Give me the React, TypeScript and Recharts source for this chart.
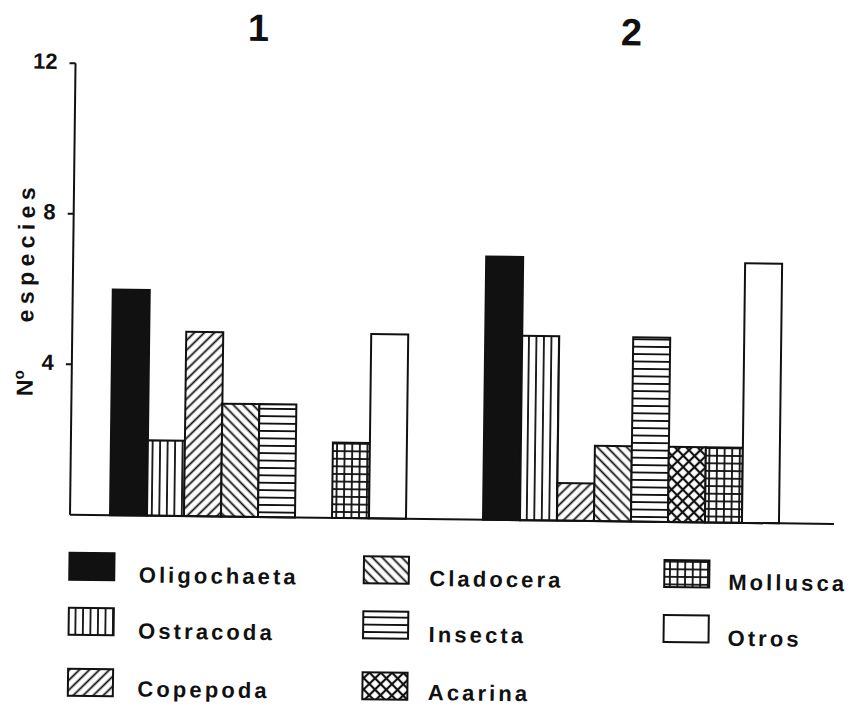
import React from 'react';
import { BarChart, Bar, XAxis, YAxis, ReferenceLine } from 'recharts';

// ---- data ----
const groups = ['1', '2'];
const oligochaeta = [6, 7];
const ostracoda = [2, 4.9];
const copepoda = [4.9, 1];
const cladocera = [3, 2];
const insecta = [3, 4.9];
const acarina = [0, 2];
const mollusca = [2, 2];
const otros = [4.9, 6.9];
const yTicks = [4, 8, 12];

const seriesNames = ['Oligochaeta', 'Ostracoda', 'Copepoda', 'Cladocera', 'Insecta', 'Acarina', 'Mollusca', 'Otros'];
const seriesValues = [oligochaeta, ostracoda, copepoda, cladocera, insecta, acarina, mollusca, otros];
const seriesFills = ['#111', 'url(#pVert)', 'url(#pDiagR)', 'url(#pDiagL)', 'url(#pHoriz)', 'url(#pCross)', 'url(#pGrid)', '#fff'];

const data = groups.map((g, i) => {
  const row: Record<string, string | number> = { group: g };
  seriesNames.forEach((n, k) => { row[n] = seriesValues[k][i]; });
  return row;
});

const FONT = '"Liberation Sans", Arial, Helvetica, sans-serif';
const INK = '#111';

// legend layout (columns of series)
const legendColumns = [
  { names: ['Oligochaeta', 'Ostracoda', 'Copepoda'], sx: 72, tx: 141.5 },
  { names: ['Cladocera', 'Insecta', 'Acarina'], sx: 366.5, tx: 432 },
  { names: ['Mollusca', 'Otros'], sx: 667, tx: 731 },
];
const legendRowTop = [557, 612, 673];
const legendRowBase = [586, 642, 700];

function Patterns() {
  const sw = 1.8;
  return (
    <defs>
      <pattern id="pVert" patternUnits="userSpaceOnUse" width="7.5" height="10">
        <rect width="7.5" height="10" fill="#fff" />
        <line x1="3.75" y1="0" x2="3.75" y2="10" stroke={INK} strokeWidth={sw} />
      </pattern>
      <pattern id="pHoriz" patternUnits="userSpaceOnUse" width="10" height="7.4">
        <rect width="10" height="7.4" fill="#fff" />
        <line x1="0" y1="3.7" x2="10" y2="3.7" stroke={INK} strokeWidth={sw} />
      </pattern>
      <pattern id="pDiagR" patternUnits="userSpaceOnUse" width="7" height="7" patternTransform="rotate(45)">
        <rect width="7" height="7" fill="#fff" />
        <line x1="3.5" y1="0" x2="3.5" y2="7" stroke={INK} strokeWidth={sw} />
      </pattern>
      <pattern id="pDiagL" patternUnits="userSpaceOnUse" width="7" height="7" patternTransform="rotate(-45)">
        <rect width="7" height="7" fill="#fff" />
        <line x1="3.5" y1="0" x2="3.5" y2="7" stroke={INK} strokeWidth={sw} />
      </pattern>
      <pattern id="pCross" patternUnits="userSpaceOnUse" width="8" height="8" patternTransform="rotate(45)">
        <rect width="8" height="8" fill="#fff" />
        <line x1="4" y1="0" x2="4" y2="8" stroke={INK} strokeWidth={sw + 0.4} />
        <line x1="0" y1="4" x2="8" y2="4" stroke={INK} strokeWidth={sw + 0.4} />
      </pattern>
      <pattern id="pGrid" patternUnits="userSpaceOnUse" width="7.6" height="7.6">
        <rect width="7.6" height="7.6" fill="#fff" />
        <line x1="3.8" y1="0" x2="3.8" y2="7.6" stroke={INK} strokeWidth={sw} />
        <line x1="0" y1="3.8" x2="7.6" y2="3.8" stroke={INK} strokeWidth={sw} />
      </pattern>
    </defs>
  );
}

export default function App() {
  return (
    <div
      style={{
        position: 'absolute', left: 0, top: 0, width: 852, height: 708,
        background: '#fff', transform: 'rotate(0.7deg)', transformOrigin: '426px 354px',
      }}
    >
      <BarChart
        width={852}
        height={708}
        data={data}
        margin={{ top: 20, right: 16, bottom: 189, left: 0 }}
        barCategoryGap={37}
        barGap={0}
      >
        <XAxis
          dataKey="group"
          orientation="top"
          height={47.6}
          axisLine={false}
          tickLine={false}
          tickSize={0}
          tickMargin={24.6}
          interval={0}
          padding={{ left: 3, right: 15 }}
          tick={{ fill: INK, fontSize: 38, fontWeight: 'bold', fontFamily: FONT, dx: -7 }}
        />
        <YAxis
          domain={[0, 12]}
          ticks={yTicks}
          width={72}
          axisLine={{ stroke: INK, strokeWidth: 2 }}
          tickLine={{ stroke: INK, strokeWidth: 2 }}
          tickSize={6}
          tickMargin={12}
          tick={{ fill: INK, fontSize: 22, fontWeight: 'bold', fontFamily: FONT, dy: -2 }}
        />
        <ReferenceLine y={0} stroke={INK} strokeWidth={2} />
        {seriesNames.map((n, k) => (
          <Bar
            key={n}
            dataKey={n}
            fill={seriesFills[k]}
            stroke={INK}
            strokeWidth={2}
            isAnimationActive={false}
          />
        ))}
      </BarChart>
      <svg
        width={852}
        height={708}
        style={{ position: 'absolute', left: 0, top: 0, pointerEvents: 'none' }}
      >
        <Patterns />
        <text
          x={33}
          y={401}
          transform="rotate(-90 33 401)"
          fontFamily={FONT}
          fontWeight="bold"
          fontSize={23}
          fill={INK}
        >
          N
          <tspan dy={-9} fontSize={15}>o</tspan>
          <tspan dy={9} dx={48} style={{ letterSpacing: '5.4px' }}>especies</tspan>
        </text>
        {legendColumns.map((col) =>
          col.names.map((name, r) => {
            const k = seriesNames.indexOf(name);
            return (
              <g key={name}>
                <rect
                  x={col.sx}
                  y={legendRowTop[r]}
                  width={45}
                  height={27}
                  fill={seriesFills[k]}
                  stroke={INK}
                  strokeWidth={2}
                />
                <text
                  x={col.tx}
                  y={legendRowBase[r]}
                  fontFamily={FONT}
                  fontWeight="bold"
                  fontSize={22}
                  fill={INK}
                  style={{ letterSpacing: '3.1px' }}
                >
                  {name}
                </text>
              </g>
            );
          })
        )}
      </svg>
    </div>
  );
}
